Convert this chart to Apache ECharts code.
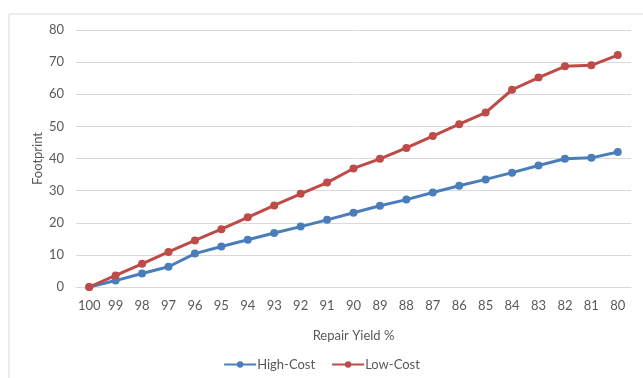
<!DOCTYPE html>
<html>
<head>
<meta charset="utf-8">
<script src="https://cdn.jsdelivr.net/npm/echarts@6/dist/echarts.min.js"></script>
<style>
  html, body { margin: 0; padding: 0; background: #fff; }
  #chart { width: 643px; height: 378px; }
</style>
</head>
<body>
<div id="chart"></div>
<script>
// Repair yield categories, from 100% down to 80%
const repairYield = ['100', '99', '98', '97', '96', '95', '94', '93', '92', '91', '90',
                     '89', '88', '87', '86', '85', '84', '83', '82', '81', '80'];

// Footprint values for each cost scenario
const highCost = [0, 2.0, 4.2, 6.3, 10.4, 12.6, 14.7, 16.8, 18.8, 20.9, 23.1,
                  25.3, 27.2, 29.4, 31.5, 33.5, 35.6, 37.8, 39.9, 40.2, 42.0];
const lowCost = [0, 3.6, 7.2, 10.9, 14.5, 18.0, 21.7, 25.4, 29.0, 32.5, 36.9,
                 39.9, 43.3, 47.0, 50.7, 54.3, 61.4, 65.2, 68.7, 69.0, 72.2];

// Value axis ticks
const yMin = 0, yMax = 80, yStep = 10;

const textColor = '#595959';
const gridColor = '#d9d9d9';
const fontFamily = 'Lato, "Open Sans", sans-serif';

const chart = echarts.init(document.getElementById('chart'));

chart.setOption({
  animation: false,
  textStyle: { fontFamily: fontFamily, color: textColor },
  graphic: [{
    type: 'rect',
    shape: { x: 9, y: 14, width: 700, height: 400 },
    style: { fill: 'none', stroke: gridColor, lineWidth: 1 },
    silent: true
  }],
  grid: { left: 76, right: 12, top: 30, bottom: 91 },
  legend: {
    bottom: 2,
    left: 'center',
    itemWidth: 32,
    itemHeight: 8,
    itemGap: 16,
    textStyle: { fontFamily: fontFamily, color: textColor, fontSize: 13, padding: [0, 0, 0, -4] },
    data: ['High-Cost', 'Low-Cost']
  },
  xAxis: {
    type: 'category',
    data: repairYield,
    boundaryGap: true,
    name: 'Repair Yield %',
    nameLocation: 'middle',
    nameGap: 42,
    nameMoveOverlap: false,
    nameTextStyle: { fontFamily: fontFamily, color: textColor, fontSize: 13 },
    axisLine: { lineStyle: { color: gridColor } },
    axisTick: { show: false },
    axisLabel: { color: textColor, fontSize: 13, margin: 12, interval: 0 }
  },
  yAxis: {
    type: 'value',
    min: yMin,
    max: yMax,
    interval: yStep,
    name: 'Footprint',
    nameLocation: 'middle',
    nameGap: 32,
    nameMoveOverlap: false,
    nameTextStyle: { fontFamily: fontFamily, color: textColor, fontSize: 13 },
    axisLine: { show: false },
    axisTick: { show: false },
    axisLabel: { color: textColor, fontSize: 13, margin: 12 },
    splitLine: { lineStyle: { color: gridColor, width: 1 } }
  },
  series: [
    {
      name: 'High-Cost',
      type: 'line',
      data: highCost,
      color: '#4a7ebb',
      symbol: 'circle',
      symbolSize: 8,
      lineStyle: { width: 3 }
    },
    {
      name: 'Low-Cost',
      type: 'line',
      data: lowCost,
      color: '#be4b48',
      symbol: 'circle',
      symbolSize: 8,
      lineStyle: { width: 3 }
    }
  ]
});
</script>
</body>
</html>
